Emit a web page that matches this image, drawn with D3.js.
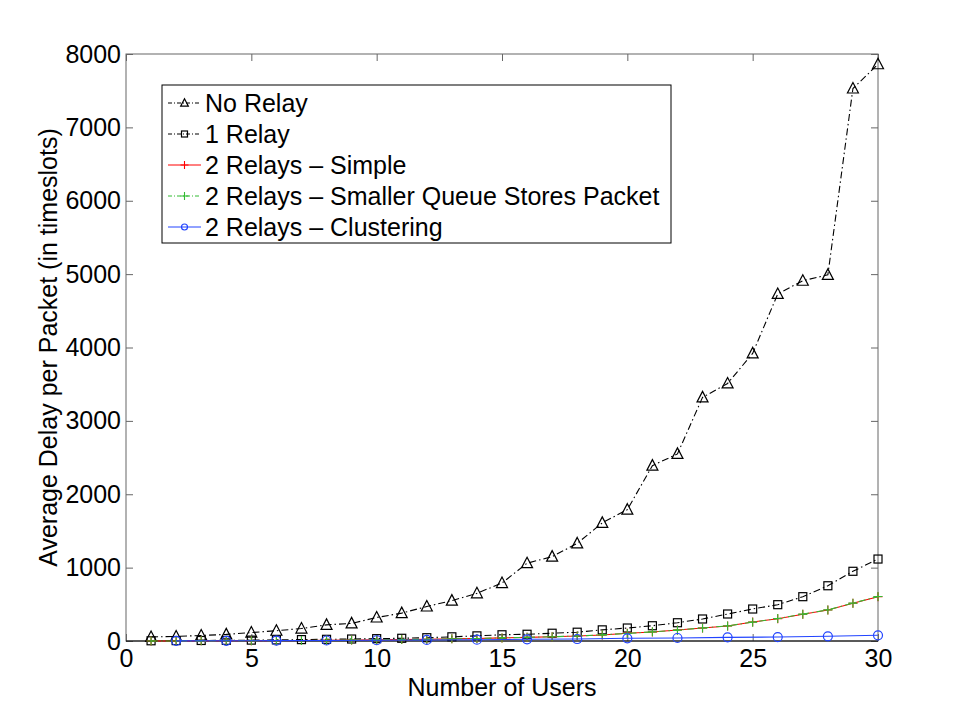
<!DOCTYPE html>
<html><head><meta charset="utf-8">
<script src="https://cdn.jsdelivr.net/npm/d3@7"></script>
<style>body{margin:0;background:#fff}svg{display:block}text{font-family:"Liberation Sans",Arial,sans-serif}</style>
</head><body><div id="chart"></div>
<script>
const users = d3.range(1, 31);
const noRelay = [55,62,75,90,115,140,170,220,240,320,380,470,550,650,790,1060,1150,1330,1610,1790,2390,2550,3320,3510,3920,4730,4910,4990,7530,7860];
const oneRelay = [3,5,7,9,12,15,19,23,27,32,37,45,57,70,85,92,106,120,152,177,208,249,300,368,436,495,604,753,950,1117];
const twoSimple = [1,1,2,3,4,5,7,9,12,15,19,24,29,35,42,50,58,68,82,105,123,150,177,204,259,304,364,422,514,604];
const twoSmaller = [1,1,2,3,4,5,7,9,12,15,19,24,29,35,42,50,58,68,84,103,125,148,178,206,257,306,366,424,516,606];
const clusterUsers = [2,4,6,8,10,12,14,16,18,20,22,24,26,28,30];
const twoCluster = [2,3,5,7,10,14,18,23,27,37,41,50,54,64,78];
const xTicks = [0,5,10,15,20,25,30];
const yTicks = [0,1000,2000,3000,4000,5000,6000,7000,8000];

const W = 969, H = 722;
const FS = 25;
const m = {l:126, t:54, r:878, b:641};
const svg = d3.select("#chart").append("svg").attr("width", W).attr("height", H);
const x = d3.scaleLinear().domain([0,30]).range([m.l, m.r]);
const y = d3.scaleLinear().domain([0,8000]).range([m.b, m.t]);

// frame
svg.append("rect").attr("x", m.l).attr("y", m.t).attr("width", m.r-m.l).attr("height", m.b-m.t)
  .attr("fill","none").attr("stroke","#666").attr("stroke-width",1);

const tl = 7;
const axB = svg.append("g").attr("transform",`translate(0,${m.b})`)
  .call(d3.axisBottom(x).tickValues(xTicks).tickSize(-tl).tickPadding(8).tickFormat(d3.format("d")));
const axT = svg.append("g").attr("transform",`translate(0,${m.t})`)
  .call(d3.axisTop(x).tickValues(xTicks).tickSize(-tl).tickFormat(""));
const axL = svg.append("g").attr("transform",`translate(${m.l},0)`)
  .call(d3.axisLeft(y).tickValues(yTicks).tickSize(-tl).tickPadding(5).tickFormat(d3.format("d")));
const axR = svg.append("g").attr("transform",`translate(${m.r},0)`)
  .call(d3.axisRight(y).tickValues(yTicks).tickSize(-tl).tickFormat(""));
[axB,axT,axL,axR].forEach(a=>{
  a.select(".domain").remove();
  a.selectAll(".tick line").attr("stroke","#666");
  a.selectAll("text").attr("font-size",FS).attr("fill","#000")
   .style("font-family",'"Liberation Sans",Arial,sans-serif');
});
axB.selectAll("text").attr("dy","0.71em");
svg.append("line").attr("x1",m.l).attr("x2",m.r).attr("y1",m.b).attr("y2",m.b).attr("stroke","#000");

// labels
svg.append("text").attr("x",(m.l+m.r)/2).attr("y",696).attr("text-anchor","middle")
  .attr("font-size",FS).text("Number of Users");
svg.append("text").attr("transform",`translate(57,${(m.t+m.b)/2}) rotate(-90)`)
  .attr("text-anchor","middle").attr("font-size",FS).text("Average Delay per Packet (in timeslots)");

const dashDot = "7,3,1.5,3";
const series = [
  {name:"No Relay", xs:users, ys:noRelay, color:"#000", dash:dashDot, marker:"tri"},
  {name:"1 Relay", xs:users, ys:oneRelay, color:"#000", dash:dashDot, marker:"sq"},
  {name:"2 Relays \u2013 Simple", xs:users, ys:twoSimple, color:"#ff0000", dash:null, marker:"plus"},
  {name:"2 Relays \u2013 Smaller Queue Stores Packet", xs:users, ys:twoSmaller, color:"#33bb33", dash:dashDot, marker:"plus"},
  {name:"2 Relays \u2013 Clustering", xs:clusterUsers, ys:twoCluster, color:"#2244ff", dash:null, marker:"circ"}
];

function drawMarker(g, type, cx, cy, color, s){
  if(type==="tri"){
    const h = s;
    g.append("path").attr("d",`M${cx},${cy-h*0.6}L${cx+h*0.55},${cy+h*0.45}L${cx-h*0.55},${cy+h*0.45}Z`)
      .attr("fill","none").attr("stroke",color).attr("stroke-width",1.2);
  } else if(type==="sq"){
    g.append("rect").attr("x",cx-s/2).attr("y",cy-s/2).attr("width",s).attr("height",s)
      .attr("fill","none").attr("stroke",color).attr("stroke-width",1.2);
  } else if(type==="plus"){
    g.append("path").attr("d",`M${cx-s/2},${cy}H${cx+s/2}M${cx},${cy-s/2}V${cy+s/2}`)
      .attr("stroke",color).attr("stroke-width",1.1);
  } else {
    g.append("circle").attr("cx",cx).attr("cy",cy).attr("r",s/2)
      .attr("fill","none").attr("stroke",color).attr("stroke-width",1.2);
  }
}

const line = d3.line().x(d=>x(d[0])).y(d=>y(d[1]));
const sizes = {tri:10, sq:8, plus:9, circ:9};
series.forEach(s=>{
  const pts = s.xs.map((u,i)=>[u, s.ys[i]]);
  const g = svg.append("g");
  g.append("path").datum(pts).attr("d", line).attr("fill","none")
    .attr("stroke", s.color).attr("stroke-width",1.1).attr("stroke-dasharray", s.dash);
  pts.forEach(p=>drawMarker(g, s.marker, x(p[0]), y(p[1]), s.color, sizes[s.marker]));
});

// legend
const lg = svg.append("g");
lg.append("rect").attr("x",162).attr("y",85).attr("width",509).attr("height",158)
  .attr("fill","#fff").attr("stroke","#000").attr("stroke-width",1);
series.forEach((s,i)=>{
  const cy = 103 + i*31;
  lg.append("line").attr("x1",168).attr("x2",201).attr("y1",cy).attr("y2",cy)
    .attr("stroke",s.color).attr("stroke-width",1).attr("stroke-dasharray", s.dash ? "4,2,1,2" : null);
  drawMarker(lg, s.marker, 184.5, cy, s.color, s.marker==="tri"?7:(s.marker==="plus"?8:6));
  lg.append("text").attr("x",205).attr("y",cy).attr("dy","0.36em").attr("font-size",FS).text(s.name);
});
</script></body></html>
